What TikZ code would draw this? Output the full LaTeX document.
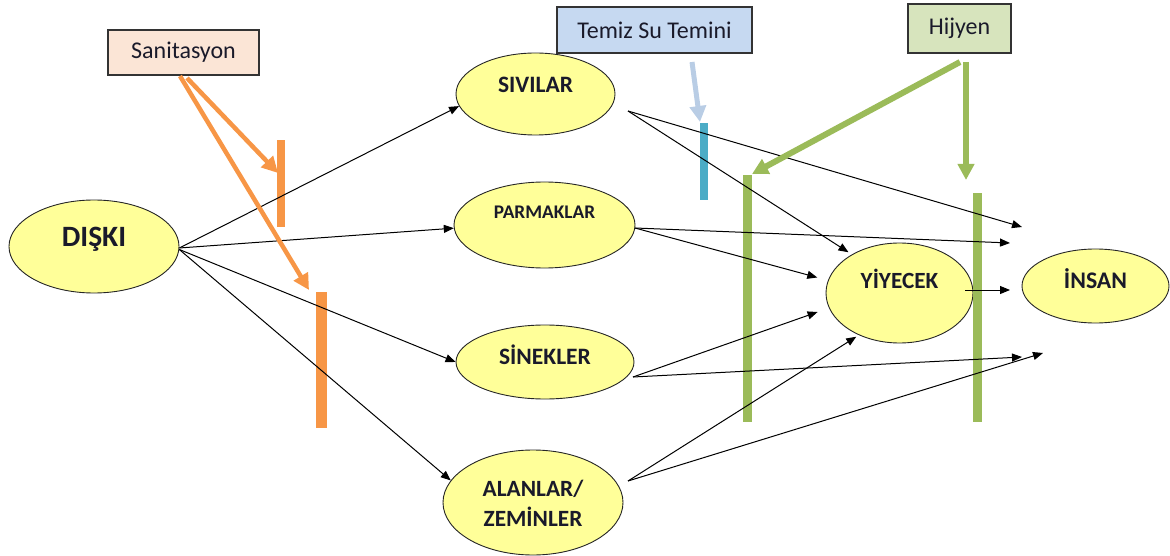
\documentclass[tikz,border=0pt]{standalone}
\usepackage{fontspec}
\setmainfont{Carlito}
\usetikzlibrary{shapes.geometric,arrows.meta}
\definecolor{ellfill}{HTML}{FFFF99}
\definecolor{orng}{HTML}{F79646}
\definecolor{grn}{HTML}{9BBB59}
\definecolor{lblue}{HTML}{B9CDE5}
\definecolor{cyanbar}{HTML}{4BACC6}
\definecolor{peach}{HTML}{FBE5D6}
\definecolor{bluebox}{HTML}{C6D9F1}
\definecolor{greenbox}{HTML}{D7E4BD}
\definecolor{txt}{HTML}{1A1A2A}
\begin{document}
\begin{tikzpicture}[x=1pt,y=-1pt,
  ell/.style={ellipse, draw=black!85, fill=ellfill, inner sep=0pt, line width=0.9pt},
  etext/.style={font=\bfseries\fontsize{#1}{#1}\selectfont, text=txt, inner sep=0pt},
  box/.style={draw=black!80, line width=1.2pt, inner sep=0pt, text=txt,
              font=\fontsize{24}{27}\selectfont},
  barnode/.style={fill=#1, draw=none, inner sep=0pt},
  flow/.style={line width=1pt, black, -{Triangle[length=10pt,width=8pt]}},
  fatarrow/.style={line width=#1, -{Triangle[length=16pt,width=16pt]}},
]
\useasboundingbox (0,0) rectangle (1170,556);

% ellipses
\node[ell, minimum width=170pt, minimum height=93pt] (d) at (94,246.5) {};
\node[ell, minimum width=159pt, minimum height=82pt] (siv) at (535.5,94) {};
\node[ell, minimum width=181pt, minimum height=86pt] (par) at (544.5,225) {};
\node[ell, minimum width=178pt, minimum height=74pt] (sin) at (545,362) {};
\node[ell, minimum width=180pt, minimum height=105pt] (ala) at (533,502.5) {};
\node[ell, minimum width=147pt, minimum height=100pt] (yiy) at (899.5,293) {};
\node[ell, minimum width=147pt, minimum height=74pt] (ins) at (1095.5,286) {};

\node[etext=29.5] (dt) at (94,239) {DIŞKI};
\node[etext=23.5] (sivt) at (535.5,85) {SIVILAR};
\node[etext=19.3] (part) at (544.5,212) {PARMAKLAR};
\node[etext=23.5] (sint) at (545,355) {SİNEKLER};
\node[etext=23.3, align=center] (alat) at (533,503) {ALANLAR/\\[7pt]ZEMİNLER};
\node[etext=23.2] (yiyt) at (899.5,279) {YİYECEK};
\node[etext=23.8] (inst) at (1095.5,279) {İNSAN};

% bars
\node[barnode=orng, minimum width=8pt, minimum height=87pt] (ob1) at (281,183.5) {};
\node[barnode=orng, minimum width=11pt, minimum height=136pt] (ob2) at (321.5,360) {};
\node[barnode=cyanbar, minimum width=8pt, minimum height=77pt] (cb) at (704,161.5) {};
\node[barnode=grn, minimum width=9pt, minimum height=247pt] (gb1) at (747.5,298.5) {};
\node[barnode=grn, minimum width=9pt, minimum height=229pt] (gb2) at (977.5,307.5) {};

% free end points
\coordinate (sivout) at (628,111);
\coordinate (parout) at (635,228);
\coordinate (sinout) at (633,377);
\coordinate (alaout) at (628,481);
\coordinate (yiyout) at (965,290);
\coordinate (t1) at (1022,227);
\coordinate (t2) at (1010,243);
\coordinate (t3) at (1010,290);
\coordinate (t4) at (1022,357);
\coordinate (t5) at (1043,353);

% black flows
\draw[flow] (d.-1) -- (siv.189);
\draw[flow] (d.-1) -- (par.182);
\draw[flow] (d.-2) -- (sin.180);
\draw[flow] (d.-2) -- (ala.165);
\draw[flow] (sivout) -- (t1);
\draw[flow, shorten >=4pt] (sivout) -- (yiy.141);
\draw[flow] (parout) -- (t2);
\draw[flow, shorten >=11pt] (parout) -- (yiy.170);
\draw[flow, shorten >=12pt] (sinout) -- (yiy.192);
\draw[flow] (sinout) -- (t4);
\draw[flow, shorten >=3pt] (alaout) -- (yiy.226);
\draw[flow] (alaout) -- (t5);
\draw[flow] (yiyout) -- (t3);

% boxes
\node[box, fill=peach, minimum width=151pt, minimum height=45pt] (san) at (183.5,52.5) {Sanitasyon};
\node[box, fill=bluebox, minimum width=195pt, minimum height=46pt] (tem) at (654.5,30) {Temiz Su Temini};
\node[box, fill=greenbox, minimum width=103pt, minimum height=49pt] (hij) at (959.5,28.5) {Hijyen};

% intervention arrows
\coordinate (sa1) at (180,76);
\coordinate (sa2) at (187,78);
\coordinate (oa1) at (278,173);
\coordinate (oa2) at (309,290);
\draw[fatarrow=4.5pt, orng] (sa2) -- (oa1);
\draw[fatarrow=4.5pt, orng] (sa1) -- (oa2);

\coordinate (ta) at (692,62);
\coordinate (tb) at (700,122);
\draw[fatarrow=5pt, lblue] (ta) -- (tb);

\coordinate (ha1) at (960,62);
\coordinate (ha2) at (966,62);
\coordinate (hb1) at (752,174);
\coordinate (hb2) at (966,180);
\draw[fatarrow=6pt, grn] (ha1) -- (hb1);
\draw[fatarrow=6pt, grn] (ha2) -- (hb2);
\end{tikzpicture}
\end{document}
